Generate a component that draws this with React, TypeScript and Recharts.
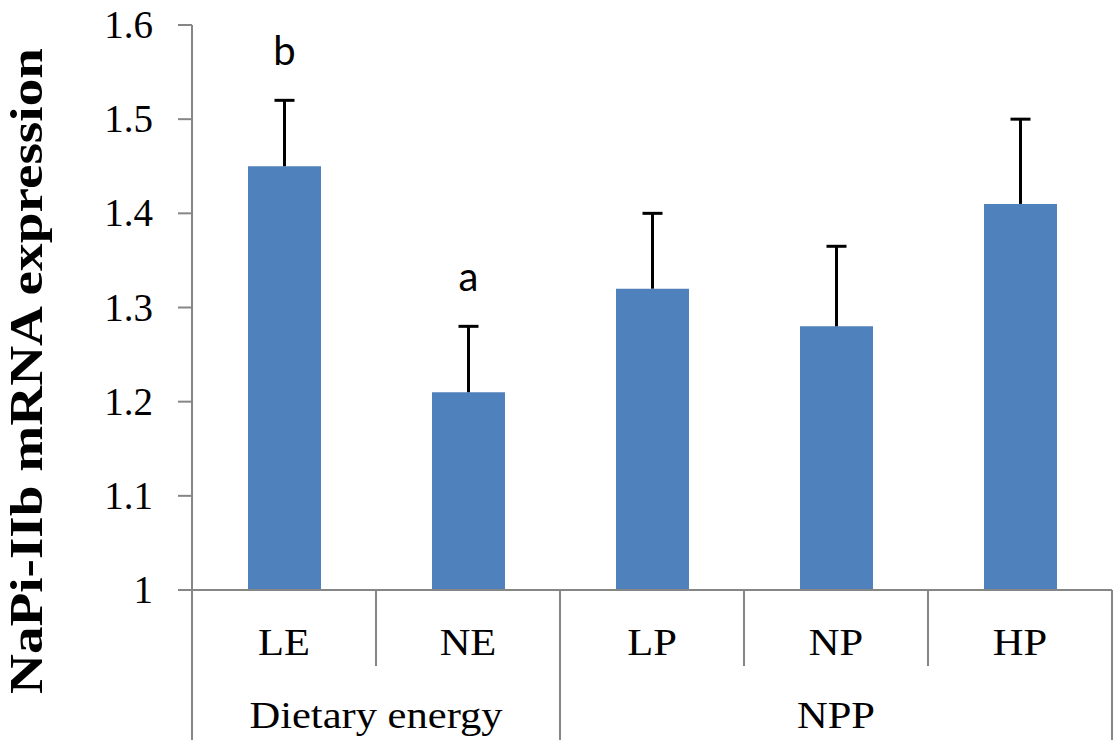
import React from 'react';
import { BarChart, Bar, XAxis, YAxis, LabelList } from 'recharts';

const categories = ['LE', 'NE', 'LP', 'NP', 'HP'];
const groups = ['Dietary energy', 'Dietary energy', 'NPP', 'NPP', 'NPP'];
const means = [1.45, 1.21, 1.32, 1.28, 1.41];
const errors = [0.07, 0.07, 0.08, 0.085, 0.09];
const letters = ['b', 'a', '', '', ''];
const yTicks = [1, 1.1, 1.2, 1.3, 1.4, 1.5, 1.6];

const data = categories.map((c, i) => ({
  name: c,
  group: groups[i],
  mean: means[i],
  err: errors[i],
  letter: letters[i],
}));

const AXIS = '#868686';
const SERIF = '"Liberation Serif", "Times New Roman", serif';

const XTick = (props: any) => {
  const { x, y, payload, index, width, visibleTicksCount } = props;
  const band = width / visibleTicksCount;
  const cur = data[index];
  const next = data[index + 1];
  const prev = data[index - 1];
  const isGroupEnd = !next || next.group !== cur.group;
  const isGroupStart = !prev || prev.group !== cur.group;
  let groupLabel = null;
  if (isGroupStart) {
    const n = data.filter((d) => d.group === cur.group).length;
    const gx = x - band / 2 + (n * band) / 2;
    groupLabel = (
      <text
        transform={`translate(${gx},${y + 138}) scale(1.15,1)`}
        textAnchor="middle"
        fontFamily={SERIF}
        fontSize={37}
        fill="#000"
      >
        {cur.group}
      </text>
    );
  }
  return (
    <g>
      <text
        transform={`translate(${x},${y + 65}) scale(1.15,1)`}
        textAnchor="middle"
        fontFamily={SERIF}
        fontSize={37}
        fill="#000"
      >
        {payload.value}
      </text>
      <line
        x1={x + band / 2}
        x2={x + band / 2}
        y1={y}
        y2={y + (isGroupEnd ? 150 : 76)}
        stroke={AXIS}
        strokeWidth={2}
      />
      {index === 0 && (
        <line x1={x - band / 2} x2={x - band / 2} y1={y} y2={y + 150} stroke={AXIS} strokeWidth={2} />
      )}
      {groupLabel}
    </g>
  );
};

const YTick = (props: any) => {
  const { x, y, payload } = props;
  return (
    <text
      x={x}
      y={y}
      dy={13}
      textAnchor="end"
      fontFamily={SERIF}
      fontSize={39}
      fill="#000"
    >
      {String(Number(Number(payload.value).toFixed(1)))}
    </text>
  );
};

const ErrShape = (p: any) => {
  const { x, y, width, height } = p;
  const cx = x + width / 2;
  return (
    <g>
      <line x1={cx} x2={cx} y1={y} y2={y + height} stroke="#000" strokeWidth={3} />
      <line x1={cx - 10} x2={cx + 10} y1={y} y2={y} stroke="#000" strokeWidth={3} />
    </g>
  );
};

const LetterLabel = (p: any) => {
  const { x, y, width, value } = p;
  if (!value) return null;
  return (
    <text
      x={x + width / 2}
      y={y - 35}
      textAnchor="middle"
      fontFamily="Lato, 'Open Sans', sans-serif"
      fontSize={40}
      fill="#000"
    >
      {value}
    </text>
  );
};

const YLabel = () => (
  <text
    transform="translate(42,371) rotate(-90) scale(1.2,1)"
    textAnchor="middle"
    fontFamily={SERIF}
    fontWeight="bold"
    fontSize={46}
    fill="#000"
  >
    NaPi-IIb mRNA expression
  </text>
);

export default function App() {
  return (
    <div style={{ width: 1117, height: 740, background: '#fff' }}>
      <style>{`body{margin:0;background:#fff}`}</style>
      <BarChart
        width={1117}
        height={740}
        data={data}
        margin={{ top: 25, right: 5, bottom: 0, left: 0 }}
      >
        <XAxis
          dataKey="name"
          interval={0}
          height={150}
          tickLine={false}
          tickSize={0}
          tickMargin={0}
          axisLine={{ stroke: AXIS, strokeWidth: 2 }}
          tick={(p: any) => <XTick {...p} />}
        />
        <YAxis
          domain={[1, 1.6]}
          ticks={yTicks}
          interval={0}
          allowDataOverflow
          width={192}
          tickSize={14}
          tickMargin={25}
          axisLine={{ stroke: AXIS, strokeWidth: 2 }}
          tickLine={{ stroke: AXIS, strokeWidth: 2 }}
          tick={(p: any) => <YTick {...p} />}
          label={{ content: () => <YLabel /> }}
        />
        <Bar dataKey="mean" stackId="s" fill="#4F81BD" barSize={73} isAnimationActive={false} />
        <Bar dataKey="err" stackId="s" barSize={73} shape={(p: any) => <ErrShape {...p} />} isAnimationActive={false}>
          <LabelList dataKey="letter" content={(p: any) => <LetterLabel {...p} />} />
        </Bar>
      </BarChart>
    </div>
  );
}
